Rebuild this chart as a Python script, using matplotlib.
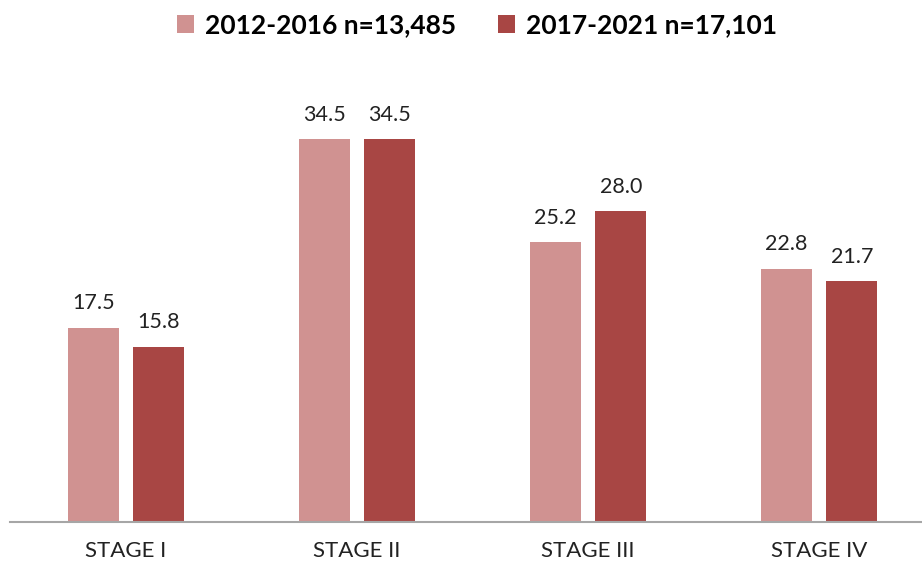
import matplotlib
matplotlib.use("Agg")
import matplotlib.pyplot as plt
import numpy as np

categories = ["STAGE I", "STAGE II", "STAGE III", "STAGE IV"]
series_names = ["2012-2016 n=13,485", "2017-2021 n=17,101"]
values_2012 = [17.5, 34.5, 25.2, 22.8]
values_2017 = [15.8, 34.5, 28.0, 21.7]
colors = ["#D09291", "#A84644"]

plt.rcParams['font.family'] = ['Lato', 'DejaVu Sans']

fig = plt.figure(figsize=(9.22, 5.67), dpi=100)
ax = fig.add_axes([10/922, 45/567, 912/922, 444/567])

x = np.arange(len(categories))
w = 0.222
off = 0.142
series = [values_2012, values_2017]
for i, (vals, name, c) in enumerate(zip(series, series_names, colors)):
    pos = x + (-off if i == 0 else off)
    bars = ax.bar(pos, vals, width=w, color=c, label=name, zorder=2)
    for b, v in zip(bars, vals):
        ax.text(b.get_x() + b.get_width()/2, v + 1.3, f"{v:.1f}",
                ha="center", va="bottom", fontsize=15.5, color="#222222")

ax.set_xlim(-0.502, 3.446)
ax.set_ylim(0, 40)
for s in ["top", "right", "left"]:
    ax.spines[s].set_visible(False)
ax.spines["bottom"].set_color("#A6A6A6")
ax.spines["bottom"].set_linewidth(1.5)
ax.set_yticks([])
ax.set_xticks(x)
ax.set_xticklabels(categories, fontsize=16, color="#222222")
ax.tick_params(axis="x", length=0, pad=14)

leg = fig.legend(loc="center", bbox_to_anchor=(477/922, 1 - 25/567), ncol=2,
                 frameon=False, prop={"weight": "bold", "size": 19},
                 handlelength=0.65, handleheight=0.65, handletextpad=0.4,
                 columnspacing=1.6)

fig.savefig("out.png", dpi=100)
